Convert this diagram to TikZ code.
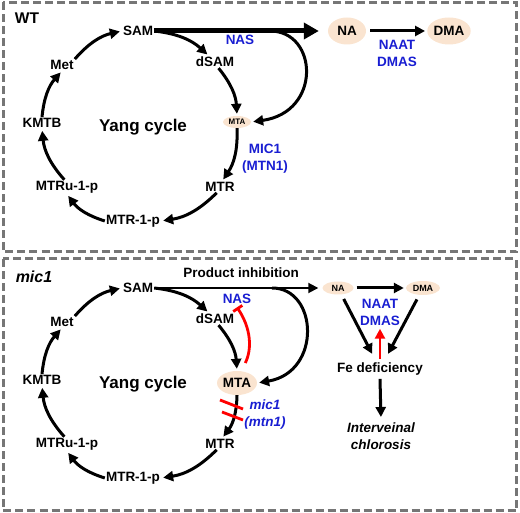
\documentclass[tikz,border=0pt]{standalone}
\usepackage{fontspec}
\setmainfont{Liberation Sans}
\usetikzlibrary{arrows.meta,shapes.geometric}
\definecolor{enzblue}{RGB}{25,30,210}
\definecolor{peach}{RGB}{250,228,208}
\definecolor{boxgray}{RGB}{118,118,118}
\def\txt{\bfseries\fontsize{13.5pt}{17pt}\selectfont}

\begin{document}
\begin{tikzpicture}[x=1pt,y=-1pt,font=\txt,>={Triangle[length=10pt,width=10pt]}]
    \tikzstyle{flow}=[->,line width=3pt,shorten >=2pt]
    \tikzstyle{metab}=[inner sep=1pt]
    \tikzstyle{pool}=[ellipse,fill=peach,inner sep=0pt]
    \tikzstyle{enzyme}=[text=enzblue,align=center]
    \tikzstyle{panel}=[draw=boxgray,line width=3pt,dash pattern=on 8pt off 4pt]
    \tikzstyle{block}=[red,line width=2.8pt]

    \useasboundingbox (0,0) rectangle (520,513);

    % Draw the two panels
    \draw[panel] (3,2.5) rectangle (516.5,252);
    \draw[panel] (3,259) rectangle (516.5,510.5);
    \node[font=\bfseries\fontsize{15.5pt}{18pt}\selectfont] (wt) at (27,18) {WT};
    \node[font=\bfseries\itshape\fontsize{16pt}{18pt}\selectfont] (mut) at (34,277) {mic1};

    % Draw the MTA pools
    \node[pool,font=\bfseries\fontsize{8pt}{9pt}\selectfont,minimum width=28pt,minimum height=12pt] (MTA-T) at (237,122) {MTA};
    \node[pool,minimum width=38pt,minimum height=24pt] (MTA-B) at (237,383) {MTA};

    % Draw the Yang cycle in both panels
    \foreach \p/\dy in {T/0,B/257}
    {
        \begin{scope}[yshift=-\dy pt]
            \node[metab] (SAM-\p) at (138,31) {SAM};
            \node[metab] (dSAM-\p) at (215,62) {dSAM};
            \node[metab] (MTR-\p) at (220,187) {MTR};
            \node[metab] (MTR1P-\p) at (133,221) {MTR-1-p};
            \node[metab] (MTRu1P-\p) at (67,187) {MTRu-1-p};
            \node[metab] (KMTB-\p) at (42,123) {KMTB};
            \node[metab] (Met-\p) at (62,65) {Met};
            \node[font=\bfseries\fontsize{17pt}{19pt}\selectfont] (yang-\p) at (143,127) {Yang cycle};
        \end{scope}

        % Connect the cycle clockwise
        \foreach \src/\dst in {SAM-\p.east/dSAM-\p.135, dSAM-\p.-60/MTA-\p.north,
                               MTA-\p.south/MTR-\p.70, MTR-\p.-120/MTR1P-\p.east,
                               MTR1P-\p.west/MTRu1P-\p.south, MTRu1P-\p.110/KMTB-\p.south,
                               KMTB-\p.north/Met-\p.south, Met-\p.north east/SAM-\p.west}
            \path[flow] (\src) edge[bend left=18] (\dst);
    }

    % WT: nicotianamine branch
    \node[pool,minimum width=38pt,minimum height=27pt] (NA-T) at (347,31) {NA};
    \node[pool,minimum width=38pt,minimum height=27pt] (DMA-T) at (449,31) {DMA};
    \coordinate (fork-T) at (270,31);
    \draw[line width=5pt,-{Triangle[length=15pt,width=16pt]},shorten >=9pt] (SAM-T.east) -- (NA-T.west);
    \draw[flow] (fork-T) .. controls (318,31) and (322,112) .. (MTA-T.east);
    \draw[flow,shorten <=4pt] (NA-T) -- (DMA-T);
    \node[enzyme] (nas-T) at (240,40) {NAS};
    \node[enzyme] (naat-T) at (397,53) {NAAT\\DMAS};
    \node[enzyme] (mtn-T) at (265,159) {MIC1\\(MTN1)};

    % mic1: product inhibition and Fe deficiency
    \node[pool,font=\bfseries\fontsize{9pt}{10pt}\selectfont,minimum width=31pt,minimum height=13pt] (NA-B) at (338,288) {NA};
    \node[pool,font=\bfseries\fontsize{9pt}{10pt}\selectfont,minimum width=34pt,minimum height=14pt] (DMA-B) at (423,288) {DMA};
    \coordinate (fork-B) at (272,288);
    \node (inhib) at (241,273) {Product inhibition};
    \draw[->,line width=1.8pt,shorten >=4pt] (SAM-B.east) -- (NA-B.west);
    \draw[flow] (fork-B) .. controls (318,288) and (322,372) .. (MTA-B.east);
    \draw[flow,shorten <=3pt] (NA-B) -- (DMA-B);
    \node[enzyme] (nas-B) at (237,299) {NAS};
    \node[enzyme] (naat-B) at (380,312) {NAAT\\DMAS};
    \node[enzyme,font=\txt\itshape] (mtn-B) at (265,415) {mic1\\(mtn1)};
    \draw[block,-{Bar[width=11pt]},shorten <=9pt] (MTA-B.70) to[bend right=30] (nas-B.south);
    \draw[block] (220,400) -- (243,409);
    \draw[block] (222,412) -- (243,420);

    \node (fe) at (380,369) {Fe deficiency};
    \node[align=center,font=\txt\itshape] (chl) at (381,436) {Interveinal\\chlorosis};
    \draw[flow,shorten <=5pt,shorten >=6pt] (NA-B) -- (fe);
    \draw[flow,shorten <=5pt,shorten >=6pt] (DMA-B) -- (fe);
    \draw[block,->] (fe.north) -- (naat-B.south);
    \draw[flow] (fe.south) -- (chl.north);
\end{tikzpicture}
\end{document}
